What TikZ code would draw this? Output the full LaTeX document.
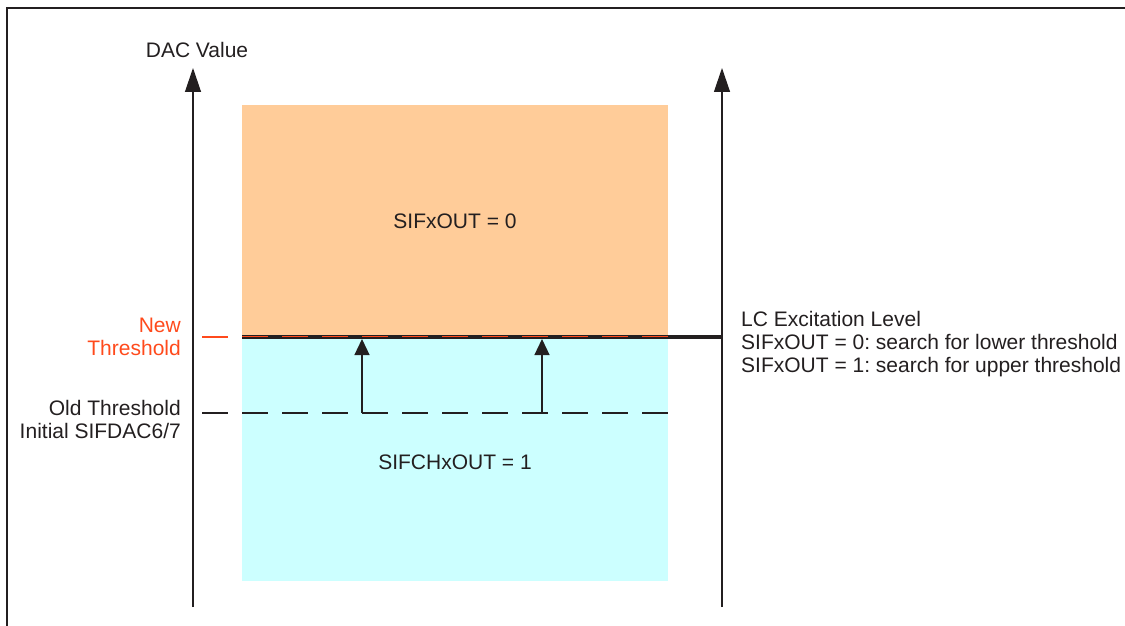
\documentclass[tikz,border=0pt]{standalone}
\usepackage{fontspec}
\setmainfont{Liberation Sans}
\usetikzlibrary{arrows.meta}
\frenchspacing
\definecolor{ink}{HTML}{231F20}
\definecolor{orangefill}{HTML}{FFCC99}
\definecolor{cyanfill}{HTML}{CCFFFF}
\definecolor{newred}{HTML}{FF4A1C}
\begin{document}
\begin{tikzpicture}[x=1pt,y=-1pt,
  lbl/.style={font=\fontsize{21}{23}\selectfont, text=ink, inner sep=0pt},
  axis/.style={draw=ink, line width=1.3pt, -{Triangle[length=24pt,width=16pt]}},
  shift arrow/.style={draw=ink, line width=1.2pt, -{Triangle[length=16pt,width=15pt]}},
  dashpat/.style={dash pattern=on 26pt off 14pt}]
\useasboundingbox (0,0) rectangle (1125,626);
% frame (left and top)
\draw[ink, line width=2.5pt] (7,626) -- (7,8) -- (1125,8);
% regions
\fill[orangefill] (242,105) rectangle (668,337);
\fill[cyanfill] (242,337) rectangle (668,581);
% axes
\coordinate (lb) at (193,607);
\coordinate (lt) at (193,68);
\coordinate (rb) at (722,607);
\coordinate (rt) at (722,68);
\draw[axis] (lb) -- (lt);
\draw[axis] (rb) -- (rt);
% LC excitation level line
\coordinate (nl) at (242,337);
\coordinate (nr) at (722,337);
\draw[ink, line width=3.5pt] (nl) -- (nr);
\draw[newred, line width=1.3pt, dashpat] (242,336.5) -- (668,336.5);
% old threshold line
\coordinate (ol) at (242,413);
\coordinate (or) at (668,413);
\draw[ink, line width=1.3pt, dashpat] (ol) -- (or);
% ticks
\draw[newred, line width=1.2pt] (202,337) -- (228,337);
\draw[ink, line width=1.2pt] (202,413) -- (228,413);
% shift arrows
\coordinate (a1b) at (362,413);
\coordinate (a1t) at (362,339);
\coordinate (a2b) at (542,413);
\coordinate (a2t) at (542,339);
\draw[shift arrow] (a1b) -- (a1t);
\draw[shift arrow] (a2b) -- (a2t);
% labels
\node[lbl] (dac) at (197,50) {DAC Value};
\node[lbl] (out0) at (455,221) {SIFxOUT = 0};
\node[lbl] (out1) at (455,462) {SIFCHxOUT = 1};
\node[lbl, text=newred, anchor=east, align=right] (newth) at (181,337) {New\\Threshold};
\node[lbl, anchor=east, align=right] (oldth) at (181,419) {Old Threshold\\Initial SIFDAC6/7};
\node[lbl, anchor=west, align=left] (lc) at (741,344) {LC Excitation Level\\SIFxOUT = 0: search for lower threshold\\SIFxOUT = 1: search for upper threshold};
\end{tikzpicture}
\end{document}
